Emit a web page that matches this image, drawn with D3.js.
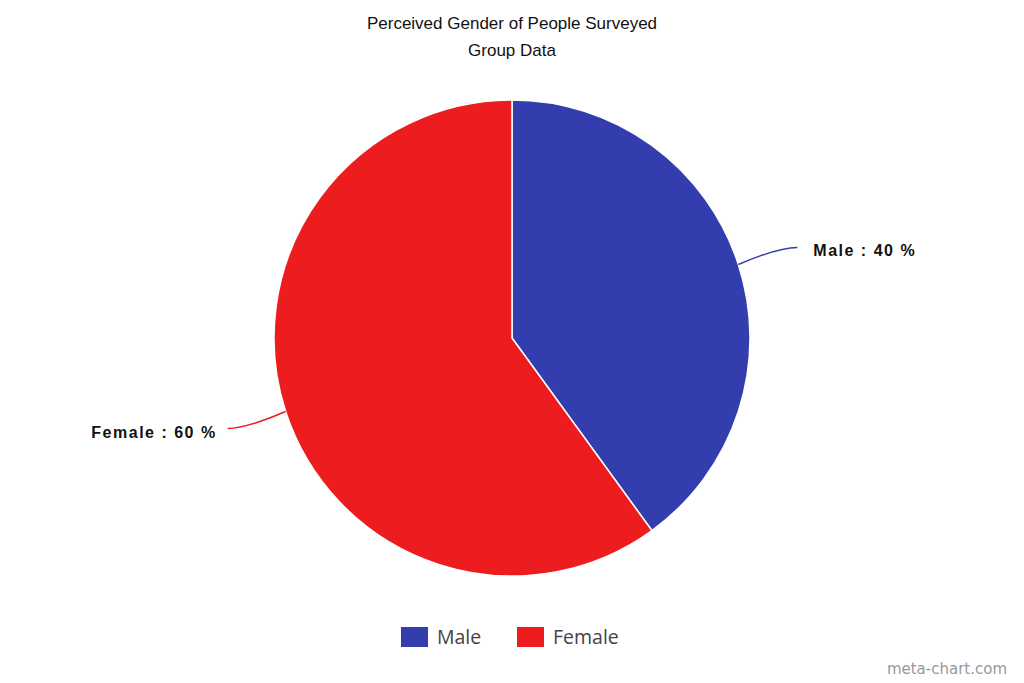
<!DOCTYPE html>
<html>
<head>
<meta charset="utf-8">
<script src="https://cdn.jsdelivr.net/npm/d3@7"></script>
<style>
  body { margin: 0; background: #fff; }
  svg { display: block; }
</style>
</head>
<body>
<svg id="chart" width="1024" height="683"></svg>
<script>
// data
var categories = ['Male', 'Female'];
var values = [40, 60];
var colors = ['#343dae', '#ed1c1e'];
var titleLines = ['Perceived Gender of People Surveyed', 'Group Data'];

var width = 1024, height = 683,
    cx = 512, cy = 338, radius = 238;

var svg = d3.select('#chart');

// title
svg.selectAll('text.title')
    .data(titleLines)
    .enter().append('text')
    .attr('class', 'title')
    .attr('x', cx)
    .attr('y', function(d, i){ return 29 + i * 27; })
    .attr('text-anchor', 'middle')
    .style('font-family', '"Liberation Sans", Arial, sans-serif')
    .style('font-size', '17px')
    .style('fill', '#111')
    .text(function(d){ return d; });

var color = d3.scaleOrdinal().domain(categories).range(colors);

var pie = d3.pie().sort(null).value(function(d){ return d.value; });
var arcs = pie(categories.map(function(c, i){ return { name: c, value: values[i] }; }));

var arc = d3.arc().innerRadius(0).outerRadius(radius);

var g = svg.append('g').attr('transform', 'translate(' + cx + ',' + cy + ')');

g.selectAll('path.slice')
    .data(arcs)
    .enter().append('path')
    .attr('class', 'slice')
    .attr('d', arc)
    .attr('fill', function(d){ return color(d.data.name); })
    .attr('stroke', '#fff')
    .attr('stroke-width', 1.5);

// connector lines + labels
arcs.forEach(function(d){
    var mid = (d.startAngle + d.endAngle) / 2;
    var right = Math.sin(mid) > 0;
    var sx = Math.sin(mid) * radius, sy = -Math.cos(mid) * radius;
    var ex = sx + (right ? 59 : -58), ey = sy + (right ? -17 : 17);
    var qx = sx + (right ? 40 : -40), qy = ey;

    var path = d3.path();
    path.moveTo(sx, sy);
    path.quadraticCurveTo(qx, qy, ex, ey);

    g.append('path')
        .attr('d', path.toString())
        .attr('fill', 'none')
        .attr('stroke', color(d.data.name))
        .attr('stroke-width', 1.5);

    g.append('text')
        .attr('x', ex + (right ? 16 : -11))
        .attr('y', ey + 9)
        .attr('text-anchor', right ? 'start' : 'end')
        .style('font-family', '"Liberation Sans", Arial, sans-serif')
        .style('font-size', '16px')
        .style('font-weight', 'bold')
        .style('letter-spacing', '1.5px')
        .style('fill', '#111')
        .text(d.data.name + ' : ' + d.data.value + ' %');
});

// legend
var legendX = [401, 517];
var legend = svg.selectAll('g.legend')
    .data(categories)
    .enter().append('g')
    .attr('class', 'legend')
    .attr('transform', function(d, i){ return 'translate(' + legendX[i] + ',627)'; });

legend.append('rect')
    .attr('width', 27)
    .attr('height', 20)
    .attr('fill', function(d){ return color(d); });

legend.append('text')
    .attr('x', 36)
    .attr('y', 17)
    .style('font-family', '"Open Sans", sans-serif')
    .style('font-size', '19.5px')
    .style('fill', '#444')
    .text(function(d){ return d; });

// credit
svg.append('text')
    .attr('x', 1007)
    .attr('y', 674)
    .attr('text-anchor', 'end')
    .style('font-family', '"DejaVu Sans", sans-serif')
    .style('font-size', '15px')
    .style('fill', '#999')
    .text('meta-chart.com');
</script>
</body>
</html>
